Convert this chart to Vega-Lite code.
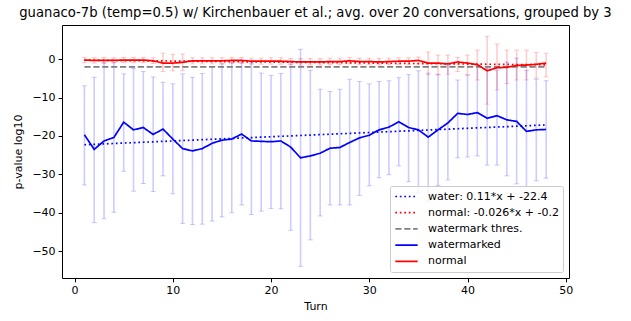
{
  "$schema": "https://vega.github.io/schema/vega-lite/v6.json",
  "width": 507,
  "height": 253,
  "autosize": "none",
  "padding": {"left": 62, "top": 25, "right": 62, "bottom": 43},
  "title": {"text": "guanaco-7b (temp=0.5) w/ Kirchenbauer et al.; avg. over 20 conversations, grouped by 3", "anchor": "middle"},
  "datasets": {
    "obs": [
      {"t":1,"s":"watermarked","m":-19.7,"lo":-32.8,"hi":-6.9},
      {"t":2,"s":"watermarked","m":-23.5,"lo":-42.6,"hi":-4.7},
      {"t":3,"s":"watermarked","m":-21.3,"lo":-41.6,"hi":-0.8},
      {"t":4,"s":"watermarked","m":-20.4,"lo":-39.9,"hi":-0.8},
      {"t":5,"s":"watermarked","m":-16.4,"lo":-29.2,"hi":-3.8},
      {"t":6,"s":"watermarked","m":-18.4,"lo":-34.4,"hi":-2.4},
      {"t":7,"s":"watermarked","m":-17.8,"lo":-32.4,"hi":-3.2},
      {"t":8,"s":"watermarked","m":-19.6,"lo":-34.5,"hi":-4.6},
      {"t":9,"s":"watermarked","m":-18.2,"lo":-30.4,"hi":-6.0},
      {"t":10,"s":"watermarked","m":-20.8,"lo":-35.1,"hi":-6.4},
      {"t":11,"s":"watermarked","m":-23.3,"lo":-42.8,"hi":-3.8},
      {"t":12,"s":"watermarked","m":-23.9,"lo":-43.1,"hi":-4.7},
      {"t":13,"s":"watermarked","m":-23.3,"lo":-43.0,"hi":-3.7},
      {"t":14,"s":"watermarked","m":-21.9,"lo":-42.2,"hi":-1.9},
      {"t":15,"s":"watermarked","m":-21.1,"lo":-41.1,"hi":-1.2},
      {"t":16,"s":"watermarked","m":-20.8,"lo":-40.0,"hi":-0.8},
      {"t":17,"s":"watermarked","m":-19.5,"lo":-38.0,"hi":-0.8},
      {"t":18,"s":"watermarked","m":-21.3,"lo":-40.5,"hi":-1.0},
      {"t":19,"s":"watermarked","m":-21.4,"lo":-39.6,"hi":-3.6},
      {"t":20,"s":"watermarked","m":-21.5,"lo":-38.9,"hi":-4.2},
      {"t":21,"s":"watermarked","m":-21.3,"lo":-39.0,"hi":-3.7},
      {"t":22,"s":"watermarked","m":-22.9,"lo":-44.6,"hi":-1.2},
      {"t":23,"s":"watermarked","m":-25.7,"lo":-54.0,"hi":2.6},
      {"t":24,"s":"watermarked","m":-25.2,"lo":-47.1,"hi":-2.9},
      {"t":25,"s":"watermarked","m":-24.5,"lo":-40.9,"hi":-7.8},
      {"t":26,"s":"watermarked","m":-23.2,"lo":-38.0,"hi":-8.4},
      {"t":27,"s":"watermarked","m":-23.0,"lo":-38.0,"hi":-7.8},
      {"t":28,"s":"watermarked","m":-21.7,"lo":-38.0,"hi":-5.2},
      {"t":29,"s":"watermarked","m":-20.5,"lo":-35.5,"hi":-5.8},
      {"t":30,"s":"watermarked","m":-19.8,"lo":-33.0,"hi":-6.4},
      {"t":31,"s":"watermarked","m":-18.4,"lo":-30.9,"hi":-5.8},
      {"t":32,"s":"watermarked","m":-17.7,"lo":-30.1,"hi":-5.6},
      {"t":33,"s":"watermarked","m":-16.3,"lo":-27.8,"hi":-4.8},
      {"t":34,"s":"watermarked","m":-17.8,"lo":-31.9,"hi":-4.0},
      {"t":35,"s":"watermarked","m":-18.4,"lo":-34.9,"hi":-3.0},
      {"t":36,"s":"watermarked","m":-20.3,"lo":-37.1,"hi":-3.6},
      {"t":37,"s":"watermarked","m":-18.4,"lo":-32.9,"hi":-3.9},
      {"t":38,"s":"watermarked","m":-16.6,"lo":-31.5,"hi":-1.5},
      {"t":39,"s":"watermarked","m":-14.1,"lo":-25.7,"hi":-5.4},
      {"t":40,"s":"watermarked","m":-14.4,"lo":-25.5,"hi":-4.1},
      {"t":41,"s":"watermarked","m":-13.9,"lo":-25.2,"hi":-1.7},
      {"t":42,"s":"watermarked","m":-15.4,"lo":-27.6,"hi":-2.4},
      {"t":43,"s":"watermarked","m":-14.7,"lo":-27.6,"hi":-2.9},
      {"t":44,"s":"watermarked","m":-15.8,"lo":-30.4,"hi":-0.7},
      {"t":45,"s":"watermarked","m":-16.2,"lo":-32.5,"hi":0.3},
      {"t":46,"s":"watermarked","m":-18.8,"lo":-33.2,"hi":-2.9},
      {"t":47,"s":"watermarked","m":-18.4,"lo":-31.7,"hi":-5.2},
      {"t":48,"s":"watermarked","m":-18.3,"lo":-31.0,"hi":-5.6},
      {"t":1,"s":"normal","m":-0.2,"lo":-0.9,"hi":0.5},
      {"t":2,"s":"normal","m":-0.3,"lo":-1.0,"hi":0.4},
      {"t":3,"s":"normal","m":-0.3,"lo":-1.1,"hi":0.5},
      {"t":4,"s":"normal","m":-0.3,"lo":-1.0,"hi":0.4},
      {"t":5,"s":"normal","m":-0.2,"lo":-0.9,"hi":0.5},
      {"t":6,"s":"normal","m":-0.2,"lo":-0.9,"hi":0.5},
      {"t":7,"s":"normal","m":-0.2,"lo":-0.9,"hi":0.5},
      {"t":8,"s":"normal","m":-0.4,"lo":-1.1,"hi":0.4},
      {"t":9,"s":"normal","m":-1.0,"lo":-3.2,"hi":1.6},
      {"t":10,"s":"normal","m":-1.0,"lo":-3.0,"hi":1.3},
      {"t":11,"s":"normal","m":-0.8,"lo":-3.0,"hi":1.4},
      {"t":12,"s":"normal","m":-0.4,"lo":-1.2,"hi":0.4},
      {"t":13,"s":"normal","m":-0.4,"lo":-1.2,"hi":0.4},
      {"t":14,"s":"normal","m":-0.4,"lo":-1.2,"hi":0.4},
      {"t":15,"s":"normal","m":-0.4,"lo":-1.2,"hi":0.4},
      {"t":16,"s":"normal","m":-0.3,"lo":-1.1,"hi":0.5},
      {"t":17,"s":"normal","m":-0.3,"lo":-1.1,"hi":0.5},
      {"t":18,"s":"normal","m":-0.5,"lo":-1.3,"hi":0.3},
      {"t":19,"s":"normal","m":-0.5,"lo":-1.3,"hi":0.3},
      {"t":20,"s":"normal","m":-0.5,"lo":-1.3,"hi":0.4},
      {"t":21,"s":"normal","m":-0.5,"lo":-1.3,"hi":0.4},
      {"t":22,"s":"normal","m":-0.6,"lo":-1.4,"hi":0.2},
      {"t":23,"s":"normal","m":-0.7,"lo":-1.5,"hi":0.2},
      {"t":24,"s":"normal","m":-0.7,"lo":-1.5,"hi":0.2},
      {"t":25,"s":"normal","m":-0.7,"lo":-1.5,"hi":0.2},
      {"t":26,"s":"normal","m":-0.6,"lo":-1.4,"hi":0.3},
      {"t":27,"s":"normal","m":-0.6,"lo":-1.4,"hi":0.3},
      {"t":28,"s":"normal","m":-0.4,"lo":-1.2,"hi":0.5},
      {"t":29,"s":"normal","m":-0.6,"lo":-1.4,"hi":0.3},
      {"t":30,"s":"normal","m":-0.6,"lo":-1.4,"hi":0.3},
      {"t":31,"s":"normal","m":-0.7,"lo":-1.5,"hi":0.2},
      {"t":32,"s":"normal","m":-0.6,"lo":-1.4,"hi":0.3},
      {"t":33,"s":"normal","m":-0.5,"lo":-1.3,"hi":0.4},
      {"t":34,"s":"normal","m":-0.5,"lo":-1.3,"hi":0.4},
      {"t":35,"s":"normal","m":-0.3,"lo":-1.2,"hi":0.6},
      {"t":36,"s":"normal","m":-1.0,"lo":-4.0,"hi":1.9},
      {"t":37,"s":"normal","m":-1.0,"lo":-4.1,"hi":1.1},
      {"t":38,"s":"normal","m":-1.2,"lo":-3.9,"hi":1.1},
      {"t":39,"s":"normal","m":-0.7,"lo":-3.2,"hi":0.5},
      {"t":40,"s":"normal","m":-1.0,"lo":-4.1,"hi":1.1},
      {"t":41,"s":"normal","m":-1.4,"lo":-5.4,"hi":2.4},
      {"t":42,"s":"normal","m":-3.0,"lo":-11.7,"hi":6.0},
      {"t":43,"s":"normal","m":-2.2,"lo":-8.0,"hi":4.0},
      {"t":44,"s":"normal","m":-2.1,"lo":-6.3,"hi":2.4},
      {"t":45,"s":"normal","m":-1.6,"lo":-5.4,"hi":2.4},
      {"t":46,"s":"normal","m":-1.5,"lo":-5.4,"hi":2.4},
      {"t":47,"s":"normal","m":-1.3,"lo":-4.9,"hi":1.8},
      {"t":48,"s":"normal","m":-1.0,"lo":-4.6,"hi":1.6}
    ],
    "ref": [
      {"t":1,"s":"water: 0.11*x + -22.4","m":-22.29},
      {"t":48,"s":"water: 0.11*x + -22.4","m":-17.12},
      {"t":1,"s":"normal: -0.026*x + -0.2","m":-0.226},
      {"t":48,"s":"normal: -0.026*x + -0.2","m":-1.448},
      {"t":1,"s":"watermark thres.","m":-2},
      {"t":48,"s":"watermark thres.","m":-2}
    ]
  },
  "layer": [
    {
      "data": {"name": "obs"},
      "transform": [{"filter": "datum.s == 'watermarked'"}],
      "mark": {"type": "errorbar", "ticks": {"size": 5, "color": "#0000ff", "opacity": 0.2, "thickness": 1}, "rule": {"color": "#0000ff", "opacity": 0.2, "strokeWidth": 1.6}},
      "encoding": {
        "x": {"field": "t", "type": "quantitative", "title": "Turn"},
        "y": {"field": "lo", "type": "quantitative", "title": "p-value log10"},
        "y2": {"field": "hi"}
      }
    },
    {
      "data": {"name": "obs"},
      "transform": [{"filter": "datum.s == 'normal'"}],
      "mark": {"type": "errorbar", "ticks": {"size": 5, "color": "#ff0000", "opacity": 0.2, "thickness": 1}, "rule": {"color": "#ff0000", "opacity": 0.2, "strokeWidth": 1.6}},
      "encoding": {
        "x": {"field": "t", "type": "quantitative", "title": "Turn"},
        "y": {"field": "lo", "type": "quantitative", "title": "p-value log10"},
        "y2": {"field": "hi"}
      }
    },
    {
      "data": {"name": "ref"},
      "mark": {"type": "line", "strokeWidth": 1.7},
      "encoding": {
        "x": {"field": "t", "type": "quantitative", "title": "Turn"},
        "y": {"field": "m", "type": "quantitative", "title": "p-value log10"},
        "color": {"field": "s", "type": "nominal"},
        "strokeDash": {"field": "s", "type": "nominal"}
      }
    },
    {
      "data": {"name": "obs"},
      "mark": {"type": "line", "strokeWidth": 1.7},
      "encoding": {
        "x": {"field": "t", "type": "quantitative", "title": "Turn", "scale": {"domain": [-1.28, 50.33], "nice": false, "zero": false}, "axis": {"values": [0, 10, 20, 30, 40, 50]}},
        "y": {"field": "m", "type": "quantitative", "title": "p-value log10", "scale": {"domain": [-57.04, 8.94], "nice": false, "zero": false}, "axis": {"values": [-50, -40, -30, -20, -10, 0]}},
        "color": {"field": "s", "type": "nominal", "title": null,
          "scale": {"domain": ["water: 0.11*x + -22.4", "normal: -0.026*x + -0.2", "watermark thres.", "watermarked", "normal"], "range": ["#0000ff", "#ff0000", "#808080", "#0000ff", "#ff0000"]}},
        "strokeDash": {"field": "s", "type": "nominal", "title": null,
          "scale": {"domain": ["water: 0.11*x + -22.4", "normal: -0.026*x + -0.2", "watermark thres.", "watermarked", "normal"], "range": [[1.7, 2.8], [1.7, 2.8], [6.2, 2.7], [1, 0], [1, 0]]}}
      }
    }
  ],
  "config": {
    "font": "DejaVu Sans",
    "view": {"stroke": "black", "strokeWidth": 1},
    "axis": {"grid": false, "domain": false, "tickColor": "black", "tickSize": 3.9, "tickWidth": 1, "labelFontSize": 11, "labelColor": "black", "labelFont": "DejaVu Sans", "labelPadding": 3, "titleFontSize": 11, "titleFontWeight": "normal", "titleColor": "black", "titleFont": "DejaVu Sans"},
    "axisX": {"titlePadding": 5},
    "axisY": {"titlePadding": 8},
    "title": {"fontSize": 13.2, "fontWeight": "normal", "font": "DejaVu Sans", "color": "black", "offset": 5},
    "legend": {"orient": "bottom-right", "offset": 6, "padding": 4, "fillColor": "rgba(255,255,255,0.8)", "strokeColor": "#cccccc", "cornerRadius": 2, "symbolType": "stroke", "symbolSize": 500, "symbolStrokeWidth": 1.7, "labelFontSize": 11, "labelFont": "DejaVu Sans", "labelColor": "black", "labelOffset": 9, "rowPadding": 3.2, "clipHeight": 13, "labelLimit": 300}
  }
}
